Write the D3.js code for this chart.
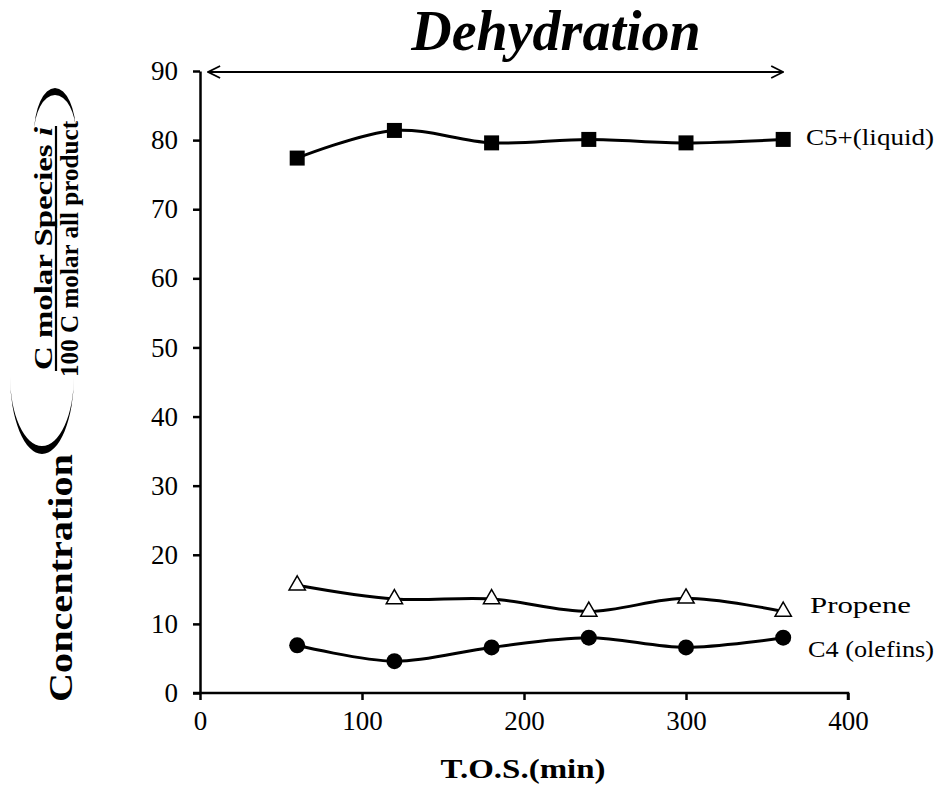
<!DOCTYPE html>
<html>
<head>
<meta charset="utf-8">
<script src="https://cdn.jsdelivr.net/npm/d3@7"></script>
<style>
  body { margin: 0; background: #fff; }
  text { font-family: "Liberation Serif", "Times New Roman", serif; fill: #000; }
</style>
</head>
<body>
<div id="chart"></div>
<script>
// data
const tos = [60, 120, 180, 240, 300, 360];
const c5Liquid = [77.4, 81.4, 79.6, 80.1, 79.6, 80.1];
const propene = [15.6, 13.6, 13.6, 11.8, 13.7, 11.8];
const c4Olefins = [6.9, 4.6, 6.6, 8.0, 6.6, 8.0];
const xTicks = [0, 100, 200, 300, 400];
const yTicks = [0, 10, 20, 30, 40, 50, 60, 70, 80, 90];
const seriesNames = ["C5+(liquid)", "Propene", "C4 (olefins)"];

const width = 940, height = 785;
const margin = { top: 71, right: 92, bottom: 92, left: 200 };

const svg = d3.select("#chart").append("svg")
  .attr("width", width)
  .attr("height", height);

const x = d3.scaleLinear().domain([0, 400]).range([margin.left, width - margin.right]);
const y = d3.scaleLinear().domain([0, 90]).range([height - margin.bottom, margin.top]);

// axes
const xAxis = svg.append("g")
  .attr("transform", `translate(0,${y(0)})`)
  .call(d3.axisBottom(x).tickValues(xTicks).tickSize(7).tickPadding(11).tickSizeOuter(0));
const yAxis = svg.append("g")
  .attr("transform", `translate(${x(0)},0)`)
  .call(d3.axisLeft(y).tickValues(yTicks).tickSize(7).tickPadding(15).tickSizeOuter(0));

[xAxis, yAxis].forEach(a => {
  a.select(".domain").attr("stroke", "#000").attr("stroke-width", 2.5);
  a.selectAll(".tick line").attr("stroke", "#000").attr("stroke-width", 2.5);
  a.selectAll(".tick text")
    .style("font-family", "'Liberation Serif', serif")
    .style("font-size", "27px")
    .attr("fill", "#000");
});
xAxis.select(".domain").attr("d", `M${x(0) - 7},0H${x(400)}V7`);

// arrow across the top
svg.append("defs").append("marker")
  .attr("id", "arrow")
  .attr("viewBox", "0 0 14 14")
  .attr("refX", 13).attr("refY", 7)
  .attr("markerWidth", 14).attr("markerHeight", 14)
  .attr("markerUnits", "userSpaceOnUse")
  .attr("orient", "auto-start-reverse")
  .append("path")
  .attr("d", "M1,1L13,7L1,13")
  .attr("fill", "none").attr("stroke", "#000").attr("stroke-width", 1.8);

svg.append("line")
  .attr("x1", x(5)).attr("x2", x(360))
  .attr("y1", y(90) + 1).attr("y2", y(90) + 1)
  .attr("stroke", "#000").attr("stroke-width", 1.8)
  .attr("marker-start", "url(#arrow)")
  .attr("marker-end", "url(#arrow)");

// smoothed lines
const line = d3.line()
  .x((d, i) => x(tos[i]))
  .y(d => y(d))
  .curve(d3.curveCatmullRom.alpha(0.5));

[c5Liquid, propene, c4Olefins].forEach(s => {
  svg.append("path")
    .attr("d", line(s))
    .attr("fill", "none")
    .attr("stroke", "#000")
    .attr("stroke-width", 3);
});

// markers
svg.selectAll(".sq").data(c5Liquid).enter().append("rect")
  .attr("x", (d, i) => x(tos[i]) - 7.5)
  .attr("y", d => y(d) - 7.5)
  .attr("width", 15).attr("height", 15)
  .attr("fill", "#000");

const tri = d3.symbol().type(d3.symbolTriangle).size(115);
svg.selectAll(".tri").data(propene).enter().append("path")
  .attr("d", tri)
  .attr("transform", (d, i) => `translate(${x(tos[i])},${y(d)})`)
  .attr("fill", "#fff")
  .attr("stroke", "#000")
  .attr("stroke-width", 1.5);

svg.selectAll(".dot").data(c4Olefins).enter().append("circle")
  .attr("cx", (d, i) => x(tos[i]))
  .attr("cy", d => y(d))
  .attr("r", 8)
  .attr("fill", "#000");

// series labels
const labelX = [806, 810, 808];
const labelY = [145, 613, 657];
const labelLen = [128, 101, 126];
svg.selectAll(".lbl").data(seriesNames).enter().append("text")
  .attr("x", (d, i) => labelX[i])
  .attr("y", (d, i) => labelY[i])
  .attr("font-size", 24)
  .attr("textLength", (d, i) => labelLen[i])
  .attr("lengthAdjust", "spacingAndGlyphs")
  .text(d => d);

// title
svg.append("text")
  .attr("x", 556).attr("y", 50)
  .attr("text-anchor", "middle")
  .attr("font-size", 56)
  .attr("font-weight", "bold")
  .attr("font-style", "italic")
  .text("Dehydration");

// x axis title
svg.append("text")
  .attr("x", 523).attr("y", 778)
  .attr("text-anchor", "middle")
  .attr("font-size", 27)
  .attr("font-weight", "bold")
  .attr("textLength", 165)
  .attr("lengthAdjust", "spacingAndGlyphs")
  .text("T.O.S.(min)");

// y axis title (rotated)
const yl = svg.append("g").attr("transform", "rotate(-90)");
yl.append("text")
  .attr("x", -702).attr("y", 72)
  .attr("font-size", 33)
  .attr("font-weight", "bold")
  .attr("textLength", 248)
  .attr("lengthAdjust", "spacingAndGlyphs")
  .text("Concentration");

const numer = yl.append("text")
  .attr("x", -370).attr("y", 52)
  .attr("font-size", 26)
  .attr("font-weight", "bold")
  .attr("textLength", 243)
  .attr("lengthAdjust", "spacingAndGlyphs");
numer.append("tspan").text("C molar Species ");
numer.append("tspan").attr("font-style", "italic").text("i");

yl.append("line")
  .attr("x1", -371).attr("x2", -126)
  .attr("y1", 56).attr("y2", 56)
  .attr("stroke", "#000").attr("stroke-width", 2.2);

yl.append("text")
  .attr("x", -377).attr("y", 78)
  .attr("font-size", 25)
  .attr("font-weight", "bold")
  .attr("textLength", 256)
  .attr("lengthAdjust", "spacingAndGlyphs")
  .text("100  C molar all product");

// big parentheses drawn as elliptic crescents
function paren(cx, yEnd, rx, ry, thick, down) {
  const s = down ? 0 : 1;
  return `M${cx - rx},${yEnd}A${rx},${ry} 0 0 ${s} ${cx + rx},${yEnd}` +
         `A${rx},${ry - thick} 0 0 ${1 - s} ${cx - rx},${yEnd}Z`;
}
svg.append("path").attr("d", paren(42, 376, 32, 78, 8, true)).attr("fill", "#000");
svg.append("path").attr("d", paren(55, 134, 21, 46, 7, false)).attr("fill", "#000");
</script>
</body>
</html>
